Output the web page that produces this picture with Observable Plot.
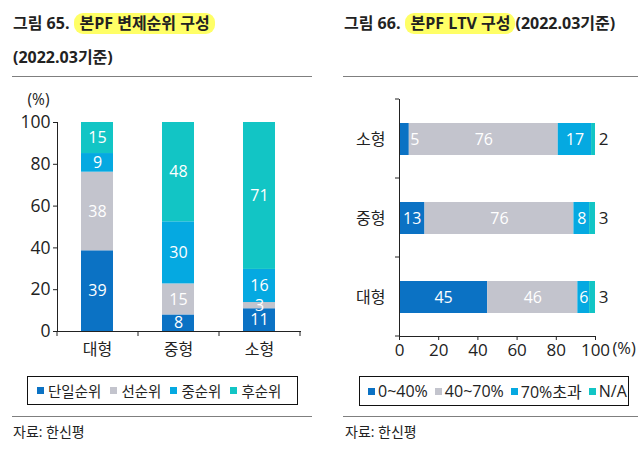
<!DOCTYPE html>
<html>
<head>
<meta charset="utf-8">
<script src="https://cdn.jsdelivr.net/npm/d3@7"></script>
<script src="https://cdn.jsdelivr.net/npm/@observablehq/plot@0.6"></script>
<style>
  body { margin: 0; background: #fff; font-family: "Open Sans", "Noto Sans CJK KR", sans-serif; color: #222; }
  #root { position: relative; width: 638px; height: 450px; overflow: hidden; background: #fff; }
  .abs { position: absolute; white-space: nowrap; }
  .title { font-size: 16px; font-weight: 700; color: #222; line-height: 21px; }
  .hl { display: inline-block; background: #ffff66; border-radius: 9px; padding: 0 5px; margin-left: 5px; }
  .rule { position: absolute; height: 1px; background: #7f7f7f; }
  .legend { position: absolute; border: 1px solid #111; box-sizing: border-box; display: flex; align-items: center; color: #222; white-space: nowrap; overflow: hidden; }
  .legend .item { display: flex; align-items: center; flex-shrink: 0; }
  .legend .sw { width: 7px; height: 7px; margin-right: 4px; flex-shrink: 0; }
  #leftLegend { font-size: 14.5px; padding-left: 9px; }
  #leftLegend .item { margin-right: 9px; }
  #rightLegend { font-size: 16px; padding-left: 8px; }
  #rightLegend .item { margin-right: 7px; }
  #rightLegend .sw { margin-right: 3px; }
  .src { font-size: 14px; color: #222; }
  svg { overflow: visible; }
</style>
</head>
<body>
<div id="root">
  <div class="abs title" style="left:13px; top:13px;">그림 65.<span class="hl">본PF 변제순위 구성</span></div>
  <div class="abs title" style="left:13px; top:47px;">(2022.03기준)</div>
  <div class="rule" style="left:12px; top:76px; width:300px;"></div>

  <div class="abs title" style="left:344px; top:13px;">그림 66.<span class="hl">본PF LTV 구성</span>(2022.03기준)</div>
  <div class="rule" style="left:343px; top:76px; width:295px;"></div>

  <div id="leftChart" class="abs" style="left:0px; top:0px;"></div>
  <div id="rightChart" class="abs" style="left:320px; top:0px;"></div>

  <div id="leftLegend" class="legend" style="left:27px; top:376px; width:271px; height:29px;"></div>
  <div id="rightLegend" class="legend" style="left:359px; top:376px; width:270px; height:30px;"></div>

  <div class="rule" style="left:12px; top:416px; width:300px;"></div>
  <div class="rule" style="left:343px; top:416px; width:295px;"></div>
  <div class="abs src" style="left:13px; top:421px;">자료: 한신평</div>
  <div class="abs src" style="left:345px; top:421px;">자료: 한신평</div>
</div>
<script>
// ---- Data: 그림 65 본PF 변제순위 구성 ----
const rankCategories = ["대형", "중형", "소형"];
const rankSeries = ["단일순위", "선순위", "중순위", "후순위"];
const rankSingle = [39, 8, 11];
const rankSenior = [38, 15, 3];
const rankMezz = [9, 30, 16];
const rankJunior = [15, 48, 71];
const rankTicks = [0, 20, 40, 60, 80, 100];

// ---- Data: 그림 66 본PF LTV 구성 ----
const ltvCategories = ["소형", "중형", "대형"];
const ltvSeries = ["0~40%", "40~70%", "70%초과", "N/A"];
const ltvLow = [5, 13, 45];
const ltvMid = [76, 76, 46];
const ltvHigh = [17, 8, 6];
const ltvNA = [2, 3, 3];
const ltvTicks = [0, 20, 40, 60, 80, 100];

const seriesColors = ["#0b72c4", "#c3c4cd", "#05a9e1", "#12c5c5"];
const fontFamily = '"Open Sans", "Noto Sans CJK KR", sans-serif';

// ---- Build rows ----
const rankArrays = [rankSingle, rankSenior, rankMezz, rankJunior];
const rankRows = rankCategories.flatMap((c, i) =>
  rankArrays.map((arr, j) => ({cat: c, series: rankSeries[j], idx: j, value: arr[i]})));
const ltvArrays = [ltvLow, ltvMid, ltvHigh, ltvNA];
const ltvRows = ltvCategories.flatMap((c, i) =>
  ltvArrays.map((arr, j) => ({cat: c, series: ltvSeries[j], idx: j, value: arr[i]})));

// ---- Left chart ----
const left = Plot.plot({
  width: 320, height: 365,
  marginTop: 122, marginBottom: 34, marginLeft: 57, marginRight: 20,
  style: {fontFamily, fontSize: "16px", color: "#222", background: "transparent", overflow: "visible"},
  x: {domain: rankCategories, paddingInner: 0.6, paddingOuter: 0.3},
  y: {domain: [0, 1]},
  color: {domain: rankSeries, range: seriesColors},
  marks: [
    Plot.barY(rankRows, Plot.stackY({offset: "normalize", x: "cat", y: "value", fill: "series"})),
    Plot.text(rankRows, Plot.stackY({offset: "normalize", x: "cat", y: "value", z: "series", text: "value", fill: "white", fontSize: 16})),
    Plot.axisY({ticks: rankTicks.map(d => d / 100), tickFormat: d => Math.round(d * 100), tickSize: 4, tickPadding: 3, fontSize: 17.5, label: null}),
    Plot.axisX({tickSize: 0, tickPadding: 12, fontSize: 16, label: null}),
    Plot.frame({anchor: "left", stroke: "#222"}),
    Plot.frame({anchor: "bottom", stroke: "#222"}),
    Plot.text(["(%)"], {frameAnchor: "top-left", dx: -30, dy: -29, fontSize: 15.5, fill: "#222"})
  ]
});
document.getElementById("leftChart").appendChild(left);
{
  const xs = left.scale("x"), ys = left.scale("y");
  const [r0, r1] = xs.range;
  const step = (r1 - r0) / rankCategories.length;
  const yb = ys.range[0];
  d3.select(left).append("g").attr("stroke", "#222")
    .selectAll("line").data(d3.range(rankCategories.length + 1)).join("line")
    .attr("x1", i => r0 + i * step).attr("x2", i => r0 + i * step)
    .attr("y1", yb).attr("y2", yb + 5);
}

// ---- Right chart ----
const right = Plot.plot({
  width: 318, height: 365,
  marginTop: 99, marginBottom: 29, marginLeft: 79, marginRight: 43,
  style: {fontFamily, fontSize: "16px", color: "#222", background: "transparent", overflow: "visible"},
  x: {domain: [0, 100]},
  y: {domain: ltvCategories, paddingInner: 0.6, paddingOuter: 0.3},
  color: {domain: ltvSeries, range: seriesColors},
  marks: [
    Plot.barX(ltvRows, Plot.stackX({y: "cat", x: "value", fill: "series"})),
    // labels centred in wide segments
    Plot.text(ltvRows, Plot.stackX({y: "cat", x: "value", z: "series",
      text: d => (d.idx < 3 && d.value >= 6) ? d.value : "", fill: "white", fontSize: 16})),
    // labels for narrow first segments, placed just after the segment
    Plot.text(ltvRows, Plot.stackX2({y: "cat", x: "value", z: "series",
      text: d => (d.idx === 0 && d.value < 6) ? d.value : "", fill: "white", fontSize: 16, textAnchor: "start", dx: 1})),
    // N/A labels outside the bar
    Plot.text(ltvRows.filter(d => d.idx === 3), {y: "cat", text: "value", frameAnchor: "right", dx: 13, fill: "#222", fontSize: 17}),
    Plot.axisX({ticks: ltvTicks, tickSize: 4, tickPadding: 3, fontSize: 17, label: null}),
    Plot.axisY({tickSize: 0, tickPadding: 14, fontSize: 16, label: null}),
    Plot.frame({anchor: "left", stroke: "#222"}),
    Plot.frame({anchor: "bottom", stroke: "#222"}),
    Plot.text(["(%)"], {frameAnchor: "bottom-right", dx: 17, dy: 17, fontSize: 16.5, fill: "#222", textAnchor: "start"})
  ]
});
document.getElementById("rightChart").appendChild(right);
{
  const xs = right.scale("x"), ys = right.scale("y");
  const [r0, r1] = ys.range;
  const step = (r1 - r0) / ltvCategories.length;
  const xl = xs.range[0];
  d3.select(right).append("g").attr("stroke", "#222")
    .selectAll("line").data(d3.range(ltvCategories.length + 1)).join("line")
    .attr("x1", xl - 4).attr("x2", xl)
    .attr("y1", i => r0 + i * step).attr("y2", i => r0 + i * step);
}

// ---- Legends ----
function buildLegend(id, names) {
  const box = document.getElementById(id);
  names.forEach((n, i) => {
    const item = document.createElement("span");
    item.className = "item";
    const sw = document.createElement("span");
    sw.className = "sw";
    sw.style.background = seriesColors[i];
    const t = document.createElement("span");
    t.textContent = n;
    item.appendChild(sw); item.appendChild(t);
    box.appendChild(item);
  });
}
buildLegend("leftLegend", rankSeries);
buildLegend("rightLegend", ltvSeries);
</script>
</body>
</html>
